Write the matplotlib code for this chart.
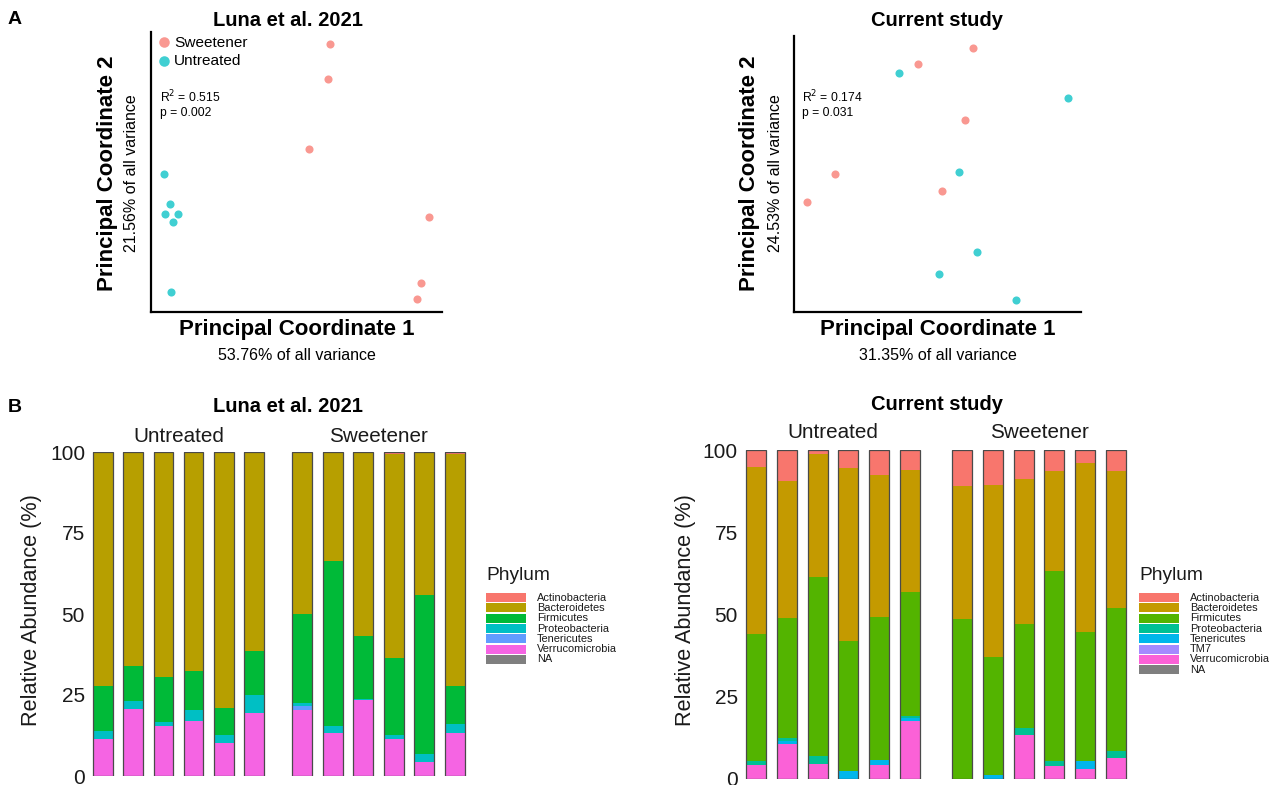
import numpy as np
import matplotlib
matplotlib.use("Agg")
import matplotlib.pyplot as plt
from matplotlib.patches import Rectangle

plt.rcParams["font.family"] = ["Liberation Sans", "DejaVu Sans"]

# -----------------------------
# PCoA data (scaled PC1 / PC2 scores)
# -----------------------------
luna_sweet_pc1 = [0.615, 0.608, 0.543, 0.955, 0.928, 0.914]
luna_sweet_pc2 = [0.957, 0.832, 0.582, 0.339, 0.104, 0.046]
luna_untr_pc1 = [0.045, 0.065, 0.048, 0.093, 0.076, 0.069]
luna_untr_pc2 = [0.493, 0.386, 0.350, 0.350, 0.321, 0.071]

cur_sweet_pc1 = [0.624, 0.432, 0.596, 0.143, 0.045, 0.516]
cur_sweet_pc2 = [0.957, 0.899, 0.696, 0.500, 0.399, 0.438]
cur_untr_pc1 = [0.366, 0.955, 0.575, 0.638, 0.505, 0.774]
cur_untr_pc2 = [0.866, 0.775, 0.507, 0.217, 0.138, 0.043]

# -----------------------------
# Relative abundance (%) per sample: 6 untreated then 6 sweetener
# -----------------------------
luna_phyla = ["Actinobacteria", "Bacteroidetes", "Firmicutes", "Proteobacteria",
              "Tenericutes", "Verrucomicrobia", "NA"]
luna_abund = {
    "Verrucomicrobia": [11.3, 20.7, 15.4, 17.1, 10.1, 19.3, 20.5, 13.3, 23.4, 11.3, 4.4, 13.3],
    "Tenericutes":     [0, 0, 0, 0, 0, 0, 1.2, 0, 0, 0, 0, 0],
    "Proteobacteria":  [2.5, 2.4, 1.3, 3.2, 2.7, 5.6, 0.7, 2.1, 0.4, 1.5, 2.3, 2.6],
    "Firmicutes":      [13.9, 10.7, 13.9, 12.0, 8.2, 13.6, 27.7, 51.0, 19.3, 23.6, 49.2, 12.0],
    "Bacteroidetes":   [72.3, 66.2, 69.4, 67.7, 79.0, 61.5, 49.6, 33.6, 56.9, 62.9, 44.1, 71.6],
    "Actinobacteria":  [0, 0, 0, 0, 0, 0, 0.3, 0, 0, 0.7, 0, 0.5],
}
luna_colors = ["#F8766D", "#B79F00", "#00BA38", "#00BFC4", "#619CFF", "#F564E3", "#7F7F7F"]

cur_phyla = ["Actinobacteria", "Bacteroidetes", "Firmicutes", "Proteobacteria",
             "Tenericutes", "TM7", "Verrucomicrobia", "NA"]
cur_abund = {
    "Verrucomicrobia": [4.4, 10.7, 4.6, 0, 4.4, 17.7, 0, 0, 13.3, 3.8, 3.1, 6.4],
    "TM7":             [0, 0, 0, 0, 0, 0, 0, 0, 0, 0, 0, 0],
    "Tenericutes":     [0, 0.9, 0, 2.5, 1.5, 0.7, 0, 1.1, 0, 0, 2.3, 0],
    "Proteobacteria":  [1.0, 0.8, 2.3, 0, 0, 0.8, 0, 0, 2.2, 1.6, 0, 2.2],
    "Firmicutes":      [38.7, 36.4, 54.6, 39.3, 43.3, 37.6, 48.5, 36.1, 31.7, 57.7, 39.2, 43.3],
    "Bacteroidetes":   [50.6, 41.8, 37.2, 52.8, 43.2, 37.1, 40.5, 52.1, 44.1, 30.6, 51.3, 41.6],
    "Actinobacteria":  [5.3, 9.4, 1.3, 5.4, 7.6, 6.1, 11.0, 10.7, 8.7, 6.3, 4.1, 6.5],
}
cur_colors = ["#F8766D", "#C49A00", "#53B400", "#00C094", "#00B6EB", "#A58AFF", "#FB61D7", "#7F7F7F"]

groups = ["Untreated", "Sweetener"]

# -----------------------------
# Figure / layout helpers (pixel based)
# -----------------------------
W, H = 1278, 785
fig = plt.figure(figsize=(W / 100, H / 100), dpi=100)


def add_ax(l, t, r, b):
    return fig.add_axes([l / W, 1 - b / H, (r - l) / W, (b - t) / H])


def ftext(x, y, s, **kw):
    fig.text(x / W, 1 - y / H, s, **kw)


red, cyan = "#F8766D", "#00BFC4"


def pcoa(box, sx, sy, ux, uy, title, tx, stats, sx_pos, xlab, ylab, ylab_x, legend=False):
    ax = add_ax(*box)
    ax.scatter(sx, sy, s=34, color=red, alpha=0.75, linewidths=0, label="Sweetener")
    ax.scatter(ux, uy, s=34, color=cyan, alpha=0.75, linewidths=0, label="Untreated")
    ax.set_xlim(0, 1)
    ax.set_ylim(0, 1)
    ax.set_xticks([])
    ax.set_yticks([])
    for s in ["top", "right"]:
        ax.spines[s].set_visible(False)
    for s in ["left", "bottom"]:
        ax.spines[s].set_linewidth(1.6)
    ftext(tx, 20, title, fontsize=14.5, fontweight="bold", ha="center", va="center")
    ftext(sx_pos[0], sx_pos[1], stats, fontsize=8.7, ha="left", va="center", linespacing=1.25)
    cx = (box[0] + box[2]) / 2
    ftext(cx, 330, "Principal Coordinate 1", fontsize=16, fontweight="bold", ha="center", va="center")
    ftext(cx, 356, xlab, fontsize=11.5, ha="center", va="center")
    cy = 173
    ftext(ylab_x, cy, "Principal Coordinate 2", fontsize=16, fontweight="bold",
          ha="center", va="center", rotation=90)
    ftext(ylab_x + 25, cy, ylab, fontsize=11.5, ha="center", va="center", rotation=90)
    if legend:
        ax.legend(loc="upper left", bbox_to_anchor=(-0.008, 1.015), frameon=False, fontsize=11.1,
                  handlelength=1.0, handletextpad=0.15, labelspacing=0.3, borderaxespad=0.1,
                  markerscale=1.3, scatterpoints=1)


pcoa((151, 32, 442, 312), luna_sweet_pc1, luna_sweet_pc2, luna_untr_pc1, luna_untr_pc2,
     "Luna et al. 2021", 288, "R$^2$ = 0.515\np = 0.002", (160, 104),
     "53.76% of all variance", "21.56% of all variance", 107, legend=True)
pcoa((794, 36, 1081, 312), cur_sweet_pc1, cur_sweet_pc2, cur_untr_pc1, cur_untr_pc2,
     "Current study", 937, "R$^2$ = 0.174\np = 0.031", (802, 104),
     "31.35% of all variance", "24.53% of all variance", 750)

ftext(15, 20, "A", fontsize=14, fontweight="bold", ha="center", va="center")
ftext(15, 407, "B", fontsize=14, fontweight="bold", ha="center", va="center")


# -----------------------------
# Stacked bars
# -----------------------------
def bars(facets, y_top, y_zero, abund, phyla, colors, title, tx, strip_y, title_y,
         ylab_x, legend_box):
    stack = [p for p in phyla[::-1] if p in abund]  # bottom -> top
    cmap = dict(zip(phyla, colors))
    for gi, (l, r) in enumerate(facets):
        ax = add_ax(l, y_top, r, y_zero)
        idx = slice(gi * 6, gi * 6 + 6)
        x = np.arange(1, 7)
        bottom = np.zeros(6)
        for p in stack:
            vals = np.array(abund[p][idx], dtype=float)
            ax.bar(x, vals, width=0.65, bottom=bottom, color=cmap[p], linewidth=0)
            bottom += vals
        ax.bar(x, bottom, width=0.65, facecolor="none", edgecolor="#4a4a4a", linewidth=0.9)
        ax.set_xlim(0.4, 6.6)
        ax.set_ylim(0, 100)
        ax.set_xticks([])
        for s in ax.spines.values():
            s.set_visible(False)
        ax.tick_params(axis="y", length=0, labelsize=15, pad=0, colors="#1a1a1a")
        if gi == 0:
            ax.set_yticks([0, 25, 50, 75, 100])
            ax.set_yticklabels(["0", "25", "50", "75", "100"])
        else:
            ax.set_yticks([])
        ax.patch.set_alpha(0)
        ftext((l + r) / 2, strip_y, groups[gi], fontsize=14.9, ha="center", va="center", color="#1a1a1a")
    ftext(tx, title_y, title, fontsize=14.5, fontweight="bold", ha="center", va="center")
    ftext(ylab_x, 610, "Relative Abundance (%)", fontsize=15.6, rotation=90,
          ha="center", va="center", color="#1a1a1a")
    # legend
    lx, ly, tx2 = legend_box
    ftext(lx, 575, "Phylum", fontsize=13.8, ha="left", va="center", color="#1a1a1a")
    for i, (p, c) in enumerate(zip(phyla, colors)):
        y0 = ly + i * 10.3
        fig.add_artist(Rectangle((lx / W, 1 - (y0 + 9) / H), 40 / W, 9 / H,
                                 transform=fig.transFigure, facecolor=c, edgecolor="none"))
        ftext(tx2, y0 + 4.7, p, fontsize=7.9, ha="left", va="center", color="#1a1a1a")


bars([(85, 272), (284, 473)], 452, 776, luna_abund, luna_phyla, luna_colors,
     "Luna et al. 2021", 288, 437, 407, 32, (486, 593, 537))
bars([(738, 928), (944, 1134)], 450, 779, cur_abund, cur_phyla, cur_colors,
     "Current study", 937, 432, 405, 685, (1139, 593, 1190))

fig.savefig("out.png", dpi=100)
